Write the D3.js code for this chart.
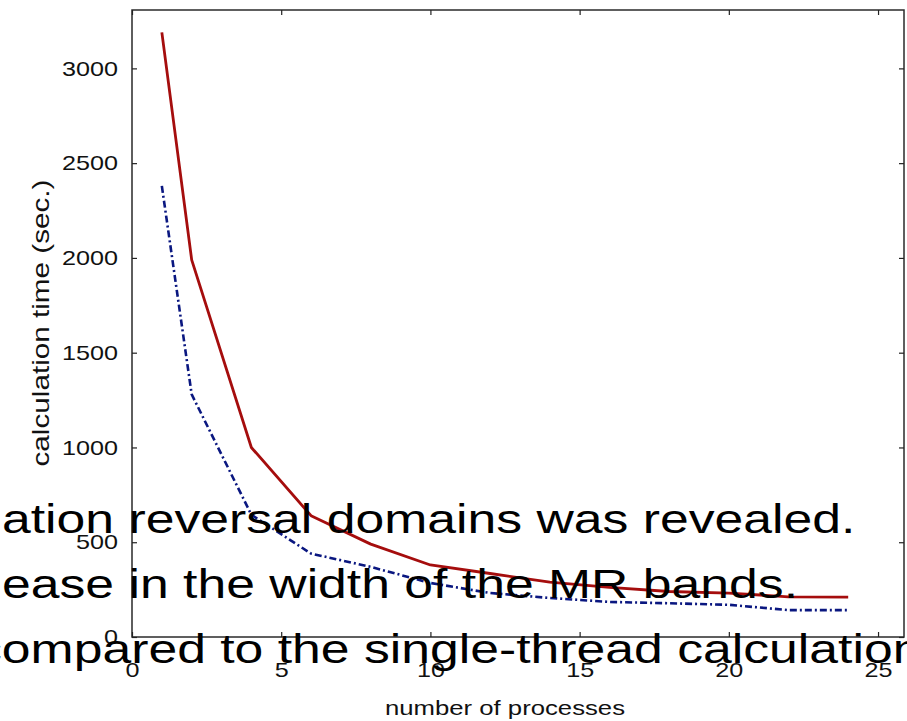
<!DOCTYPE html>
<html>
<head>
<meta charset="utf-8">
<script src="https://cdn.jsdelivr.net/npm/d3@7/dist/d3.min.js"></script>
<style>
  html, body { margin: 0; padding: 0; background: #fff; overflow: hidden; }
  svg { display: block; font-family: "Liberation Sans", Arial, sans-serif; }
  .axis path.domain { display: none; }
  .axis line { stroke: #222; stroke-width: 1.2; }
  .axis text { fill: #111; font-size: 21px; }
</style>
</head>
<body>
<svg id="chart" width="907" height="721"></svg>
<script>
// --- Data ---
const processes = [1, 2, 4, 6, 8, 10, 12, 14, 16, 18, 20, 22, 24];
const timeRed = [3190, 1990, 1000, 640, 490, 380, 335, 290, 262, 240, 232, 212, 210];
const timeBlue = [2380, 1280, 645, 440, 370, 285, 232, 206, 185, 178, 170, 142, 142];
const xTicks = [0, 5, 10, 15, 20, 25];
const yTicks = [0, 500, 1000, 1500, 2000, 2500, 3000];
const overlayLines = [
    "ation reversal domains was revealed.",
    "ease in the width of the MR bands.",
    "compared to the single-thread calculation"
];

// --- Layout ---
const plot = { left: 132, right: 904, top: 10, bottom: 637 };
const svg = d3.select("#chart");

const x = d3.scaleLinear().domain([0, 25.87]).range([plot.left, plot.right]);
const y = d3.scaleLinear().domain([0, 3308]).range([plot.bottom, plot.top]);
const fmt = d3.format("d");

// --- Frame ---
svg.append("rect")
    .attr("x", plot.left)
    .attr("y", plot.top)
    .attr("width", plot.right - plot.left)
    .attr("height", plot.bottom - plot.top)
    .attr("fill", "none")
    .attr("stroke", "#2a2a2a")
    .attr("stroke-width", 1.5);

// --- Axes (ticks pointing inwards, mirrored on top/right) ---
const digitWidth = 14;

const xAxis = svg.append("g")
    .attr("class", "axis")
    .attr("transform", `translate(0,${plot.bottom})`)
    .call(d3.axisBottom(x).tickValues(xTicks).tickFormat(fmt).tickSize(-5).tickPadding(25));
xAxis.selectAll("text")
    .attr("textLength", d => fmt(d).length * digitWidth)
    .attr("lengthAdjust", "spacingAndGlyphs");

svg.append("g")
    .attr("class", "axis")
    .attr("transform", `translate(0,${plot.top})`)
    .call(d3.axisTop(x).tickValues(xTicks).tickSize(-5).tickFormat(""));

const yAxis = svg.append("g")
    .attr("class", "axis")
    .attr("transform", `translate(${plot.left},0)`)
    .call(d3.axisLeft(y).tickValues(yTicks).tickFormat(fmt).tickSize(-5).tickPadding(14));
yAxis.selectAll("text")
    .attr("textLength", d => fmt(d).length * digitWidth)
    .attr("lengthAdjust", "spacingAndGlyphs");

svg.append("g")
    .attr("class", "axis")
    .attr("transform", `translate(${plot.right},0)`)
    .call(d3.axisRight(y).tickValues(yTicks).tickSize(-5).tickFormat(""));

// --- Axis titles ---
svg.append("text")
    .attr("x", 505)
    .attr("y", 715)
    .attr("text-anchor", "middle")
    .attr("font-size", 20)
    .attr("fill", "#111")
    .attr("textLength", 240)
    .attr("lengthAdjust", "spacingAndGlyphs")
    .text("number of processes");

svg.append("text")
    .attr("transform", "translate(49,323) rotate(-90)")
    .attr("text-anchor", "middle")
    .attr("font-size", 24)
    .attr("fill", "#111")
    .attr("textLength", 287)
    .attr("lengthAdjust", "spacingAndGlyphs")
    .text("calculation time (sec.)");

// --- Lines ---
const line = d3.line()
    .x(d => x(d[0]))
    .y(d => y(d[1]));

svg.append("path")
    .datum(processes.map((p, i) => [p, timeRed[i]]))
    .attr("fill", "none")
    .attr("stroke", "#a50d0d")
    .attr("stroke-width", 2.8)
    .attr("stroke-linejoin", "round")
    .attr("d", line);

svg.append("path")
    .datum(processes.map((p, i) => [p, timeBlue[i]]))
    .attr("fill", "none")
    .attr("stroke", "#0a1780")
    .attr("stroke-width", 2.6)
    .attr("stroke-dasharray", "7,3,2,3")
    .attr("d", line);

// --- Overlaid slide text (stretched horizontally like the source) ---
const overlayX = [2, 2, -24];
const overlayY = [533, 598, 663];
svg.append("g")
    .selectAll("text")
    .data(overlayLines)
    .join("text")
    .attr("transform", (d, i) => `translate(${overlayX[i]},${overlayY[i]}) scale(1.2925,1)`)
    .attr("font-size", 40)
    .attr("fill", "#000")
    .text(d => d);
</script>
</body>
</html>
